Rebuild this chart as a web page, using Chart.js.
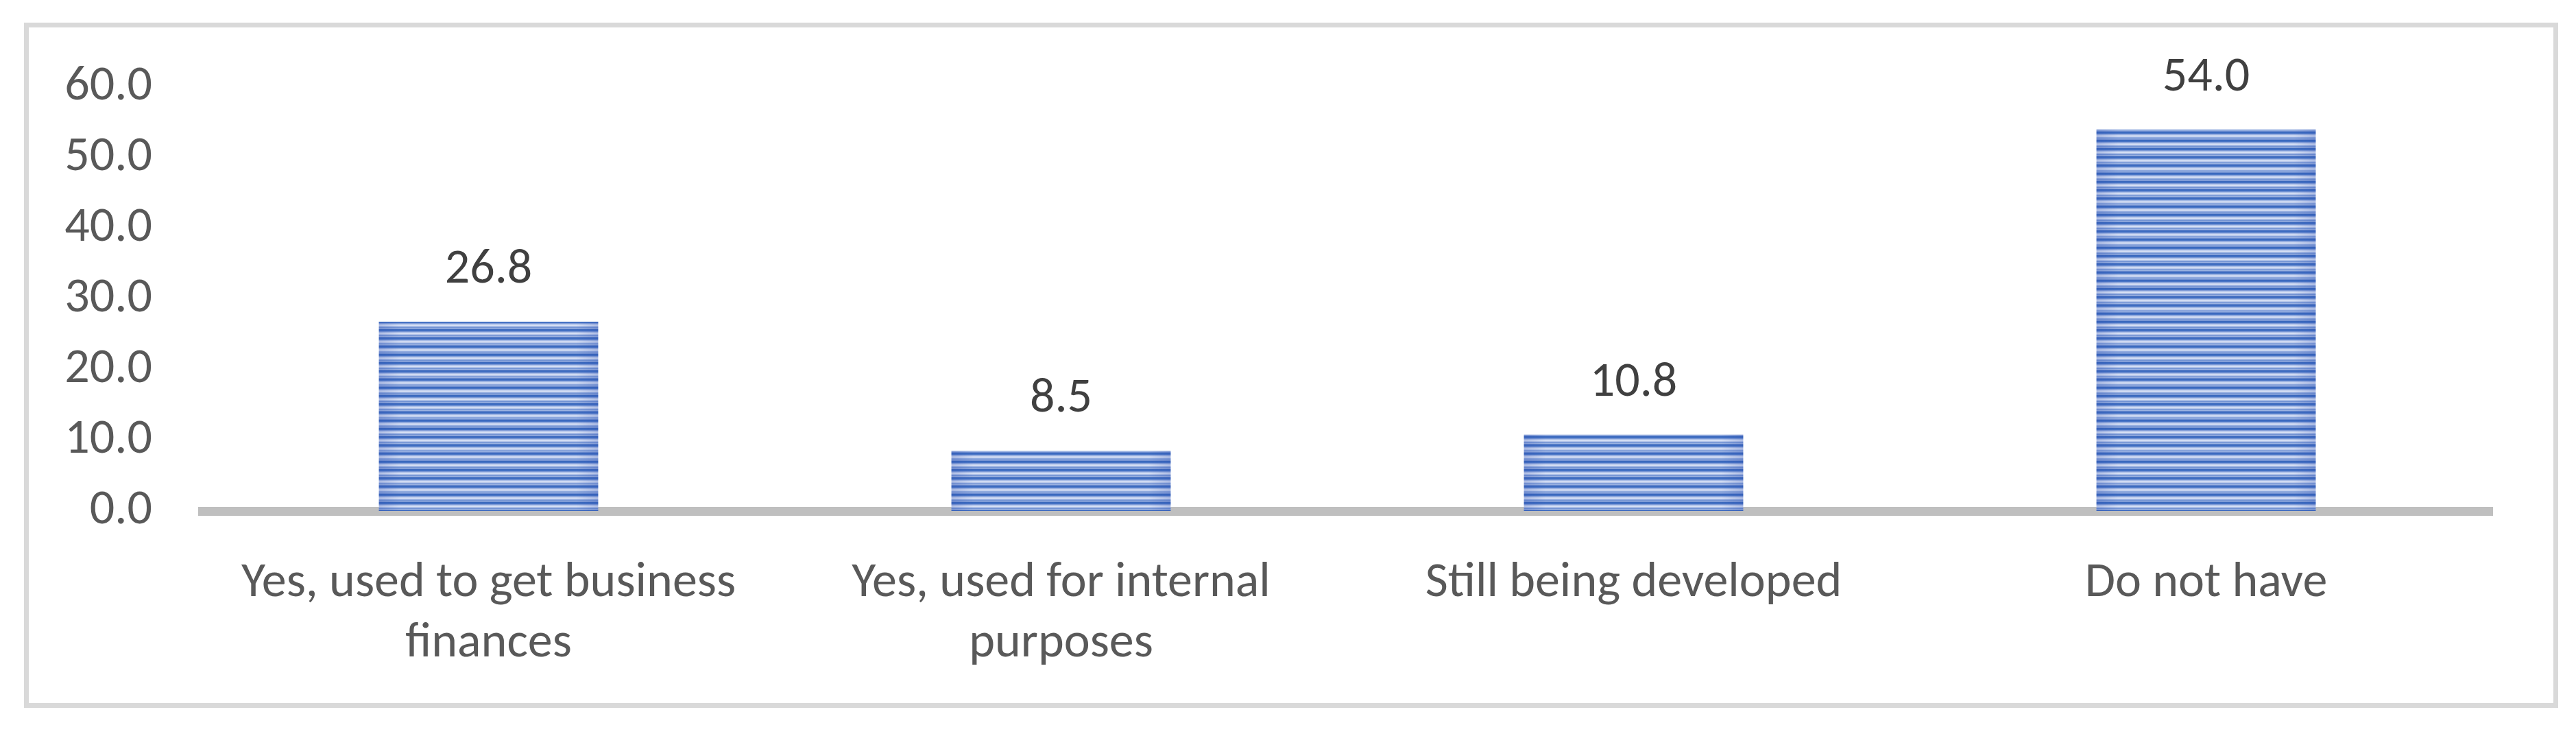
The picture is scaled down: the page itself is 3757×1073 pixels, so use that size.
<!DOCTYPE html>
<html>
<head>
<meta charset="utf-8">
<script src="https://cdn.jsdelivr.net/npm/chart.js@4.4.1/dist/chart.umd.min.js"></script>
<style>
  html, body { margin: 0; padding: 0; background: #fff; overflow: hidden; }
  #frame {
    position: absolute; left: 35px; top: 33px; width: 3696px; height: 999px;
    border: 7px solid #d9d9d9; box-sizing: border-box; pointer-events: none;
  }
  canvas { position: absolute; left: 0; top: 0; }
</style>
</head>
<body>
<canvas id="chart" width="3757" height="1073"></canvas>
<div id="frame"></div>
<script>
// Data
const categories = [
  ['Yes, used to get business', 'finances'],
  ['Yes, used for internal', 'purposes'],
  'Still being developed',
  'Do not have'
];
const values = [26.8, 8.5, 10.8, 54.0];
const yMin = 0;
const yMax = 60;
const yStep = 10;

const FONT = 'Carlito, Calibri, "Open Sans", sans-serif';

// Horizontal striped fill like the Excel picture fill (one dark line every 12px)
function stripePattern(ctx) {
  const c = document.createElement('canvas');
  c.width = 8; c.height = 12;
  const p = c.getContext('2d');
  const rows = ['#3a68bd', '#3d6cc1', '#4a76c6', '#7d9ad6', '#a9bde6', '#c9d5f0',
                '#d8e1f5', '#b8c8eb', '#8fa9de', '#7393d3', '#9cb3e2', '#6f8fd1'];
  rows.forEach((col, i) => { p.fillStyle = col; p.fillRect(0, i, 8, 1); });
  return ctx.createPattern(c, 'repeat');
}

// Value labels above the bars, plus a slight darkening at the bar edges
const valueLabels = {
  id: 'valueLabels',
  afterDatasetsDraw(chart) {
    const ctx = chart.ctx;
    const meta = chart.getDatasetMeta(0);
    ctx.save();
    meta.data.forEach((bar) => {
      const left = bar.x - bar.width / 2;
      const g = ctx.createLinearGradient(left, 0, left + bar.width, 0);
      g.addColorStop(0, 'rgba(40,70,170,0.22)');
      g.addColorStop(0.1, 'rgba(40,70,170,0)');
      g.addColorStop(0.9, 'rgba(40,70,170,0)');
      g.addColorStop(1, 'rgba(40,70,170,0.22)');
      ctx.fillStyle = g;
      ctx.fillRect(left, bar.y, bar.width, bar.base - bar.y);
    });
    ctx.font = '72px ' + FONT;
    ctx.fillStyle = '#404040';
    ctx.textAlign = 'center';
    ctx.textBaseline = 'alphabetic';
    meta.data.forEach((bar, i) => {
      ctx.fillText(values[i].toFixed(1), bar.x, bar.y - 57);
    });
    ctx.restore();
  }
};

const canvas = document.getElementById('chart');
const ctx = canvas.getContext('2d');

new Chart(canvas, {
  type: 'bar',
  data: {
    labels: categories,
    datasets: [{
      data: values,
      backgroundColor: stripePattern(ctx),
      borderWidth: 0,
      barPercentage: 1,
      categoryPercentage: 0.383
    }]
  },
  options: {
    responsive: false,
    animation: false,
    events: [],
    layout: { padding: { left: 0, top: 127, right: 122, bottom: 0 } },
    plugins: {
      legend: { display: false },
      tooltip: { enabled: false }
    },
    scales: {
      x: {
        z: 1,
        grid: { display: false, drawTicks: false },
        border: { display: true, color: '#bfbfbf', width: 13 },
        ticks: {
          color: '#595959',
          font: { family: FONT, size: 72, lineHeight: 1.22 },
          padding: 62,
          maxRotation: 0,
          autoSkip: false
        },
        afterFit(scale) { scale.height = 328; }
      },
      y: {
        min: yMin,
        max: yMax,
        grid: { display: false, drawTicks: false },
        border: { display: false },
        ticks: {
          stepSize: yStep,
          color: '#595959',
          font: { family: FONT, size: 72 },
          padding: 73,
          callback: (v) => Number(v).toFixed(1)
        },
        afterFit(scale) { scale.width = 295; }
      }
    }
  },
  plugins: [valueLabels]
});
</script>
</body>
</html>
